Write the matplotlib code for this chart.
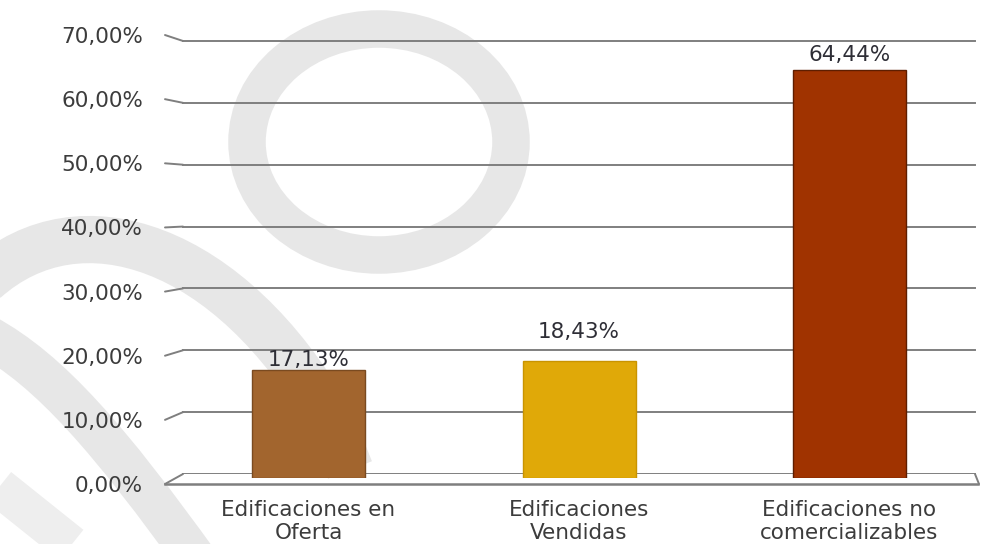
import matplotlib
matplotlib.use('Agg')
import matplotlib.pyplot as plt
from matplotlib.patches import ConnectionPatch, Ellipse, PathPatch
from matplotlib.path import Path
from matplotlib.transforms import blended_transform_factory

categories = ['Edificaciones en\nOferta', 'Edificaciones\nVendidas', 'Edificaciones no\ncomercializables']
values = [17.13, 18.43, 64.44]
bar_colors = ['#a2652e', '#e0a908', '#a03300']
edge_colors = ['#7a4a20', '#c99400', '#5e1e00']
ticks = [0, 10, 20, 30, 40, 50, 60, 70]
label_offsets = [10, 29, 15]  # px between bar top and label centre

W, H = 981, 544
fig = plt.figure(figsize=(W / 100, H / 100), dpi=100)
fig.patch.set_facecolor('white')

grid_col = '#7f7f7f'
txt_col = '#3c3c3c'
fs = 15.5

# faint watermark in the background
ax_wm = fig.add_axes([0, 0, 1, 1], zorder=0)
ax_wm.set_xlim(0, W)
ax_wm.set_ylim(H, 0)
ax_wm.axis('off')
wm = '#e7e7e7'
ax_wm.add_patch(Ellipse((379, 142), 264, 226, fill=False, ec=wm, lw=27))
C4 = Path.CURVE4
band1 = Path([(-15, 280), (80, 195), (230, 245), (330, 420), (350, 470)],
             [Path.MOVETO, C4, C4, C4, Path.LINETO])
band2 = Path([(-15, 335), (50, 370), (110, 440), (200, 565)],
             [Path.MOVETO, C4, C4, C4])
ax_wm.add_patch(PathPatch(band1, fill=False, ec=wm, lw=34, capstyle='butt'))
ax_wm.add_patch(PathPatch(band2, fill=False, ec=wm, lw=30, capstyle='butt'))
ax_wm.plot([-10, 90], [480, 560], color='#eeeeee', lw=28, solid_capstyle='butt')

# back wall: gridlines
ax_back = fig.add_axes([0, 70 / H, 1, 474 / H], zorder=1)
ax_back.patch.set_visible(False)
ax_back.axis('off')
ax_back.set_xlim(0, 1)
ax_back.set_ylim(0, 474 / 6.186)
for t in ticks:
    ax_back.axhline(t, xmin=183 / W, xmax=975 / W, color=grid_col, lw=1.4)

# front: y tick labels
ax_lab = fig.add_axes([150 / W, 60 / H, 1 - 150 / W, 484 / H], zorder=3)
ax_lab.patch.set_visible(False)
ax_lab.set_xlim(150, W)
ax_lab.set_ylim(0, 484 / 6.414)
ax_lab.set_yticks(ticks)
ax_lab.set_yticklabels([f'{t:.2f}%'.replace('.', ',') for t in ticks],
                       fontsize=fs, color=txt_col)
ax_lab.tick_params(axis='y', length=0, pad=5)
ax_lab.set_xticks([])
for s in ax_lab.spines.values():
    s.set_visible(False)

# connectors from the front labels to the back gridlines
tr_front = blended_transform_factory(fig.transFigure, ax_lab.transData)
tr_back = blended_transform_factory(fig.transFigure, ax_back.transData)
for t in ticks:
    fig.add_artist(ConnectionPatch(xyA=(165 / W, t), coordsA=tr_front,
                                   xyB=(183 / W, t), coordsB=tr_back,
                                   color=grid_col, lw=1.4, zorder=4))
# floor front edge and right side
ax_lab.plot([165, 978], [0, 0], color=grid_col, lw=1.8, clip_on=False)
fig.add_artist(ConnectionPatch(xyA=(975 / W, 0), coordsA=tr_back,
                               xyB=(979 / W, 0), coordsB=tr_front,
                               color=grid_col, lw=1.4, zorder=4))

# bars
ax = fig.add_axes([0, 66 / H, 1, 478 / H], zorder=2)
ax.patch.set_visible(False)
x = list(range(len(values)))
ax.bar(x, values, width=113 / 270.5, color=bar_colors, edgecolor=edge_colors, lw=1)
ax.set_xlim(-308.5 / 270.5, (W - 308.5) / 270.5)
ax.set_ylim(0, 478 / 6.33)
ax.set_xticks(x)
ax.set_xticklabels(categories, fontsize=fs, color=txt_col, linespacing=1.2)
ax.tick_params(axis='x', length=0, pad=16)
ax.set_yticks([])
for s in ax.spines.values():
    s.set_visible(False)

for i, v in enumerate(values):
    ax.annotate(f'{v:.2f}%'.replace('.', ','), (i, v),
                xytext=(0, label_offsets[i] * 0.72), textcoords='offset points',
                ha='center', va='center', fontsize=fs, color='#2e2e36')

fig.savefig('out.png', dpi=100)
